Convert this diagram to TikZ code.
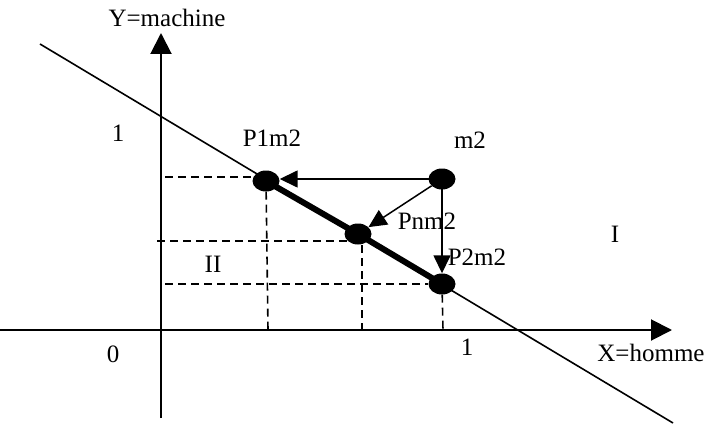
\documentclass[tikz,border=0pt]{standalone}
\usepackage{fontspec}
\setmainfont{Liberation Serif}
\usetikzlibrary{arrows.meta,shapes.geometric}
\begin{document}
\begin{tikzpicture}[x=1pt,y=-1pt,
  lbl/.style={font=\fontsize{25}{29}\selectfont, inner sep=0pt, anchor=center},
  pt/.style={ellipse, fill=black, minimum width=27pt, minimum height=21pt, inner sep=0pt},
  axis/.style={line width=2pt, -{Triangle[length=21pt,width=21pt]}},
  conn/.style={line width=1.5pt, -{Triangle[length=18pt,width=17pt]}},
  guide/.style={line width=1.6pt, dash pattern=on 8pt off 5pt},
  thickseg/.style={line width=6pt}]
\useasboundingbox (0,0) rectangle (712,425);
% axes
\coordinate (xs) at (0,330);
\coordinate (xe) at (672,330);
\coordinate (ys) at (161,418);
\coordinate (ye) at (161,33);
\draw[axis] (xs) -- (xe);
\draw[axis] (ys) -- (ye);
% diagonal line
\coordinate (d1) at (40,44);
\coordinate (d2) at (673,423);
\draw[line width=1.6pt] (d1) -- (d2);
% points
\node[pt] (m2) at (442,179) {};
\node[pt] (P1m2) at (266,181) {};
\node[pt] (Pnm2) at (358,234) {};
\node[pt] (P2m2) at (442,284) {};
% dashed guides
\coordinate (h1) at (165,177);
\coordinate (h2) at (157,241);
\coordinate (h3) at (165,284);
\coordinate (h2e) at (350,241);
\coordinate (v1) at (268,330);
\coordinate (v2) at (362,330);
\coordinate (v3) at (443,330);
\coordinate (v2s) at (362,245);
\draw[guide] (h1) -- (P1m2.center |- h1);
\draw[guide] (h2) -- (h2e);
\draw[guide] (h3) -- (P2m2);
\draw[guide] (P1m2) -- (v1);
\draw[guide] (v2s) -- (v2);
\draw[guide] (P2m2) -- (v3);
% thick segment
\draw[thickseg] (P1m2.center) -- (Pnm2.center) -- (P2m2.center);
% connectors
\draw[conn] (m2.center) -- (m2.center -| P1m2.east);
\draw[conn] (m2) -- (Pnm2);
\draw[conn] (m2.center) -- (P2m2.north);
% labels
\node[lbl] (ty) at (167,18) {Y=machine};
\node[lbl] (tx) at (651,353) {X=homme};
\node[lbl] (t1y) at (118,133) {1};
\node[lbl] (t0) at (113,354) {0};
\node[lbl] (t1x) at (467,347) {1};
\node[lbl] (tP1) at (272,138) {P1m2};
\node[lbl] (tm2) at (470,140) {m2};
\node[lbl] (tPn) at (427,221) {Pnm2};
\node[lbl] (tP2) at (477,257) {P2m2};
\node[lbl] (tI) at (615,234) {I};
\node[lbl] (tII) at (213,264) {II};
\end{tikzpicture}
\end{document}
